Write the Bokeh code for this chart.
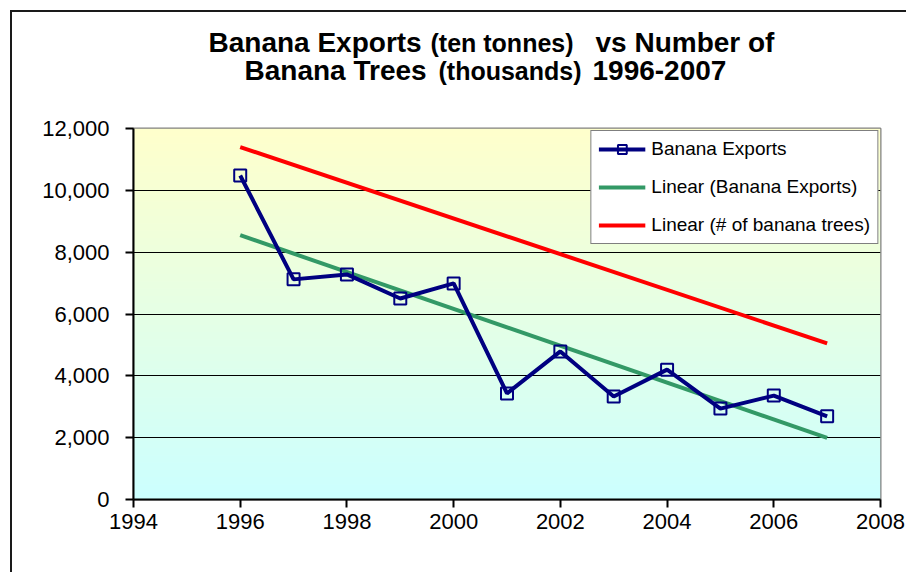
import numpy as np
from bokeh.plotting import figure
from bokeh.layouts import column
from bokeh.models import (Range1d, FixedTicker, NumeralTickFormatter,
                          Legend, LegendItem)
from bokeh.core.properties import value
from bokeh.embed import file_html
from bokeh.resources import INLINE

# ---- data ----
years = [1996, 1997, 1998, 1999, 2000, 2001, 2002, 2003, 2004, 2005, 2006, 2007]
banana_exports = [10480, 7120, 7280, 6500, 6990, 3430, 4790, 3330, 4200, 2940, 3360, 2690]
trend_years = [1996, 2007]
exports_trend = [8550, 1990]
trees_trend = [11400, 5050]
x_ticks = [1994, 1996, 1998, 2000, 2002, 2004, 2006, 2008]
y_ticks = [0, 2000, 4000, 6000, 8000, 10000, 12000]
title_big = ["Banana Exports", "vs Number of", "Banana Trees", "1996-2007"]
title_small = ["(ten tonnes)", "(thousands)"]

FONT = "Liberation Sans"
W = 894
HT = 100            # title strip height
H = 460             # chart height
BL, BR, BT, BB = 121, 26, 16, 73

# ---------------- title strip ----------------
# frame is aligned with the chart frame; data units == canvas pixels
t = figure(width=W, height=HT, output_backend="svg", toolbar_location=None, title=None,
           x_range=Range1d(BL, W - BR), y_range=Range1d(HT, 0),
           x_axis_type=None, y_axis_type=None,
           min_border_left=BL, min_border_right=BR, min_border_top=0, min_border_bottom=0)
t.grid.visible = False
t.outline_line_color = None
t.background_fill_color = "white"
t.border_fill_color = "white"
t.text(x=[196, 583, 232, 580], y=[30, 30, 58, 58], text=title_big,
       text_font=value(FONT), text_font_style="bold", text_font_size="28px",
       text_color="black", text_align="left", text_baseline="alphabetic")
t.text(x=[418, 426], y=[30, 58], text=title_small,
       text_font=value(FONT), text_font_style="bold", text_font_size="25px",
       text_color="black", text_align="left", text_baseline="alphabetic")

# ---------------- chart ----------------
p = figure(width=W, height=H, output_backend="svg", toolbar_location=None,
           x_range=Range1d(x_ticks[0], x_ticks[-1]), y_range=Range1d(y_ticks[0], y_ticks[-1]),
           min_border_left=BL, min_border_right=BR,
           min_border_top=BT, min_border_bottom=BB)

# background gradient (style only)
N = 256
img = np.empty((N, 2), dtype=np.uint32)
view = img.view(dtype=np.uint8).reshape((N, 2, 4))
tt = np.linspace(0.0, 1.0, N)[:, None]
view[:, :, 0] = (204 + 51 * tt).astype(np.uint8)
view[:, :, 1] = 255
view[:, :, 2] = (255 - 51 * tt).astype(np.uint8)
view[:, :, 3] = 255
p.image_rgba(image=[img], x=x_ticks[0], y=y_ticks[0],
             dw=x_ticks[-1] - x_ticks[0], dh=y_ticks[-1] - y_ticks[0], level="image")

p.background_fill_color = "#E6FFE6"
p.border_fill_color = "white"
p.outline_line_color = "#808080"
p.outline_line_width = 2

p.xgrid.grid_line_color = None
p.ygrid.grid_line_color = "black"
p.ygrid.grid_line_width = 1
p.ygrid.level = "underlay"

for ax in (p.xaxis[0], p.yaxis[0]):
    ax.axis_line_color = "black"
    ax.axis_line_width = 2
    ax.major_tick_line_color = "black"
    ax.major_tick_line_width = 2
    ax.major_tick_out = 8
    ax.major_tick_in = 0
    ax.minor_tick_line_color = None
    ax.major_label_text_font = FONT
    ax.major_label_text_font_size = "22px"
    ax.major_label_text_color = "black"
p.xaxis.ticker = FixedTicker(ticks=x_ticks)
p.yaxis.ticker = FixedTicker(ticks=y_ticks)
p.yaxis.formatter = NumeralTickFormatter(format="0,0")
p.yaxis.major_label_standoff = 16
p.xaxis.major_label_standoff = 6

r_red = p.line(trend_years, trees_trend, line_color="#FF0000", line_width=4)
r_green = p.line(trend_years, exports_trend, line_color="#339966", line_width=4)
r_blue = p.line(years, banana_exports, line_color="#000080", line_width=4)
r_mark = p.scatter(years, banana_exports, marker="square", size=12,
                   line_color="#000080", line_width=2, fill_color=None)

legend = Legend(items=[
    LegendItem(label="Banana Exports", renderers=[r_blue, r_mark]),
    LegendItem(label="Linear (Banana Exports)", renderers=[r_green]),
    LegendItem(label="Linear (# of banana trees)", renderers=[r_red]),
], location="top_right")
legend.margin = 2
legend.padding = 7
legend.spacing = 16
legend.glyph_width = 47
legend.glyph_height = 22
legend.label_height = 22
legend.label_standoff = 6
legend.label_text_font = FONT
legend.label_text_font_size = "19px"
legend.label_text_color = "black"
legend.border_line_color = "black"
legend.border_line_width = 1.5
legend.background_fill_color = "white"
legend.background_fill_alpha = 1.0
p.add_layout(legend, "center")

layout = column(t, p, spacing=0)
layout.styles = {"border-top": "2px solid #1a1a1a", "border-left": "2px solid #1a1a1a",
                 "margin-left": "10px", "margin-top": "10px"}

open("out.html", "w").write(file_html(layout, INLINE))
